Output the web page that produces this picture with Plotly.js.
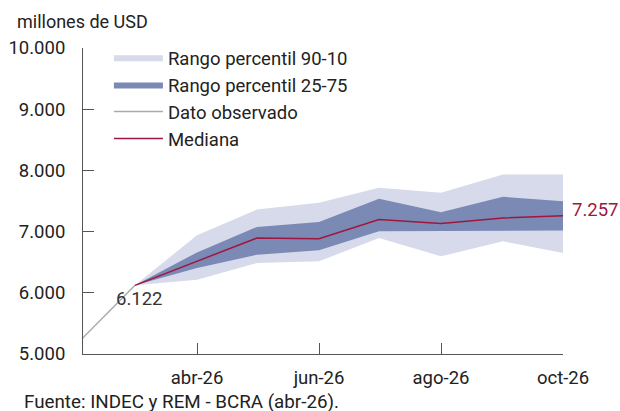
<!DOCTYPE html>
<html>
<head>
<meta charset="utf-8">
<script src="https://cdn.plot.ly/plotly-3.0.1.min.js"></script>
<style>
  body { margin: 0; background: #fff; }
  #chart { width: 620px; height: 411px; }
</style>
</head>
<body>
<div id="chart"></div>
<script>
// observed and REM forecast, millones de USD
var obsDates = ['2026-02-01', '2026-03-01'];
var observado = [5200, 6122];

var fcDates = ['2026-03-01', '2026-04-01', '2026-05-01', '2026-06-01',
               '2026-07-01', '2026-08-01', '2026-09-01', '2026-10-01'];
var mediana = [6122, 6520, 6896, 6885, 7197, 7131, 7224, 7257];
var p90 = [6122, 6940, 7361, 7470, 7716, 7634, 7934, 7934];
var p10 = [6122, 6213, 6486, 6514, 6896, 6596, 6842, 6650];
var p75 = [6122, 6660, 7077, 7158, 7536, 7317, 7568, 7497];
var p25 = [6122, 6404, 6623, 6694, 7005, 7005, 7005, 7016];

var tickDates = ['2026-04-01', '2026-06-01', '2026-08-01', '2026-10-01'];
var tickLabels = ['abr-26', 'jun-26', 'ago-26', 'oct-26'];

var lightBand = 'rgb(214,218,234)';
var darkBand = 'rgb(122,138,181)';
var red = 'rgb(160,22,62)';
var grey = 'rgb(170,170,170)';

var data = [
  {x: fcDates, y: p10, type: 'scatter', mode: 'lines', line: {width: 0, color: lightBand},
   showlegend: false, hoverinfo: 'skip'},
  {x: fcDates, y: p90, type: 'scatter', mode: 'lines', line: {width: 0, color: lightBand},
   fill: 'tonexty', fillcolor: lightBand, name: 'Rango percentil 90-10'},
  {x: fcDates, y: p25, type: 'scatter', mode: 'lines', line: {width: 0, color: darkBand},
   showlegend: false, hoverinfo: 'skip'},
  {x: fcDates, y: p75, type: 'scatter', mode: 'lines', line: {width: 0, color: darkBand},
   fill: 'tonexty', fillcolor: darkBand, name: 'Rango percentil 25-75'},
  {x: obsDates, y: observado, type: 'scatter', mode: 'lines', line: {width: 1.5, color: grey},
   name: 'Dato observado'},
  {x: fcDates, y: mediana, type: 'scatter', mode: 'lines', line: {width: 1.5, color: red},
   name: 'Mediana'}
];

var layout = {
  width: 620,
  height: 411,
  margin: {l: 83, r: 57, t: 48, b: 57},
  paper_bgcolor: '#fff',
  plot_bgcolor: '#fff',
  separators: ',.',
  font: {family: 'Roboto, sans-serif', size: 18.5, color: '#222'},
  xaxis: {
    type: 'date',
    range: ['2026-02-03', '2026-10-01'],
    tickvals: tickDates,
    ticktext: tickLabels,
    showgrid: false,
    zeroline: false,
    showline: true,
    linecolor: '#555',
    linewidth: 1,
    ticks: 'inside',
    ticklen: 11,
    tickcolor: '#555',
    ticklabelstandoff: 7
  },
  yaxis: {
    range: [5000, 10000],
    dtick: 1000,
    tickformat: ',.0f',
    showgrid: false,
    zeroline: false,
    showline: true,
    linecolor: '#555',
    linewidth: 1,
    ticks: 'inside',
    ticklen: 11,
    tickcolor: '#555',
    ticklabelstandoff: 13
  },
  showlegend: true,
  legend: {
    x: 0.054, y: 1.03, xanchor: 'left', yanchor: 'top',
    traceorder: 'normal',
    itemwidth: 49,
    bgcolor: 'rgba(0,0,0,0)',
    font: {size: 18.5, color: '#222'}
  },
  annotations: [
    {xref: 'paper', yref: 'paper', x: -0.142, y: 1.085, xanchor: 'left', yanchor: 'middle',
     text: 'millones de USD', showarrow: false, font: {size: 18, color: '#222'}},
    {xref: 'paper', yref: 'paper', x: -0.127, y: -0.156, xanchor: 'left', yanchor: 'middle',
     text: 'Fuente: INDEC y REM - BCRA (abr-26).', showarrow: false, font: {size: 18.8, color: '#222'}},
    {x: fcDates[0], y: mediana[0], text: '6.122', showarrow: false,
     xshift: 4, yshift: -14, font: {size: 18.5, color: '#333'}},
    {x: fcDates[fcDates.length - 1], y: mediana[mediana.length - 1], text: '7.257', showarrow: false,
     xanchor: 'left', xshift: 7, yshift: 6, font: {size: 18.5, color: red}}
  ]
};

Plotly.newPlot('chart', data, layout, {displayModeBar: false, staticPlot: true});
</script>
</body>
</html>
